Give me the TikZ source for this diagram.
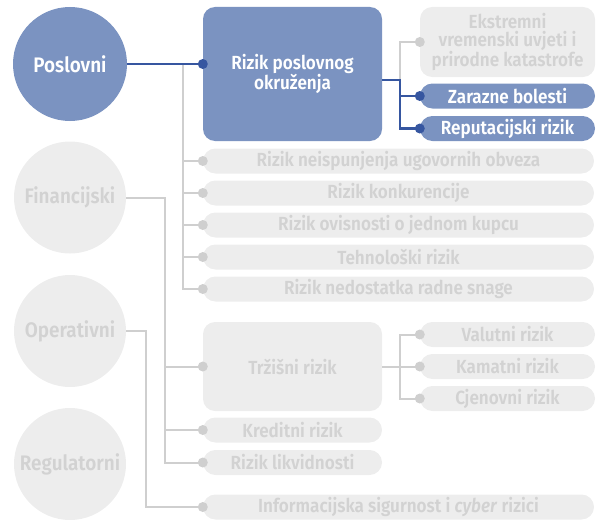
\documentclass[tikz,border=0pt]{standalone}
\usepackage{fontspec}
\setmainfont{Fira Sans}[BoldFont={Fira Sans SemiBold}, BoldFeatures={FakeStretch=0.9}, BoldItalicFont={Fira Sans SemiBold Italic}, BoldItalicFeatures={FakeStretch=0.9}]
\definecolor{bfill}{HTML}{7B93C1}
\definecolor{bline}{HTML}{3656A0}
\definecolor{gfill}{HTML}{EDEDED}
\definecolor{gtext}{HTML}{D2D2D2}
\definecolor{gline}{HTML}{CFCFCF}
\tikzset{
  base/.style={inner sep=0pt, align=center, font=\fontsize{19}{17.5}\selectfont\bfseries},
  bluec/.style={base, circle, fill=bfill, text=white, minimum size=114pt, font=\fontsize{21}{21}\selectfont\bfseries},
  grayc/.style={base, circle, fill=gfill, text=gtext, minimum size=112pt, font=\fontsize{21}{21}\selectfont\bfseries},
  bluebox/.style={base, rectangle, rounded corners=12pt, fill=bfill, text=white},
  graybox/.style={base, rectangle, rounded corners=12pt, fill=gfill, text=gtext},
  bluepill/.style={bluebox, minimum height=25pt, rounded corners=12.4pt},
  graypill/.style={graybox, minimum height=25pt, rounded corners=12.4pt},
  wide/.style={minimum width=391pt},
  mid/.style={minimum width=179pt},
  right/.style={minimum width=175pt},
  bconn/.style={draw=bline, line width=2.6pt},
  gconn/.style={draw=gline, line width=2pt},
  bdot/.style={fill=bline},
  gdot/.style={fill=gline},
}
\begin{document}
\begin{tikzpicture}[x=1pt,y=-1pt]
\useasboundingbox (0,0) rectangle (596,519);
% circles
\node[bluec] (pos) at (70,64) {Poslovni};
\node[grayc] (fin) at (70,197.5) {Financijski};
\node[grayc] (ope) at (70,331) {Operativni};
\node[grayc] (reg) at (70,464) {Regulatorni};
% business
\node[bluebox, mid, minimum height=134pt] (rpo) at (292.5,74) {Rizik poslovnog\\okruženja};
\node[graybox, right, minimum height=70pt] (eks) at (507.5,42) {Ekstremni\\vremenski uvjeti i\\prirodne katastrofe};
\node[bluepill, right] (zar) at (507.5,96) {Zarazne bolesti};
\node[bluepill, right] (rep) at (507.5,128.5) {Reputacijski rizik};
\node[graypill, wide] (p1) at (398.5,161) {Rizik neispunjenja ugovornih obveza};
\node[graypill, wide] (p2) at (398.5,193) {Rizik konkurencije};
\node[graypill, wide] (p3) at (398.5,225) {Rizik ovisnosti o jednom kupcu};
\node[graypill, wide] (p4) at (398.5,257) {Tehnološki rizik};
\node[graypill, wide] (p5) at (398.5,289) {Rizik nedostatka radne snage};
% financial
\node[graybox, mid, minimum height=89pt] (trz) at (292.5,366.5) {Tržišni rizik};
\node[graypill, right] (val) at (507.5,334.5) {Valutni rizik};
\node[graypill, right] (kam) at (507.5,366.5) {Kamatni rizik};
\node[graypill, right] (cje) at (507.5,398.5) {Cjenovni rizik};
\node[graypill, mid] (kre) at (292.5,430) {Kreditni rizik};
\node[graypill, mid] (lik) at (292.5,462.5) {Rizik likvidnosti};
% operational
\node[graypill, wide] (inf) at (398.5,507) {Informacijska sigurnost i \textit{cyber} rizici};
% junctions
\coordinate (j1) at (183,64);
\coordinate (k0) at (pos.east -| rpo.west);
\coordinate (k1) at (400,80);
\coordinate (k2) at (165,197.5);
\coordinate (k3) at (400,366.5);
\coordinate (k4) at (146,331);
% gray connectors
\draw[gconn] (j1) |- (p5.west);
\foreach \p in {p1,p2,p3,p4} \draw[gconn] (j1 |- \p.west) -- (\p.west);
\draw[gconn] (k1) |- (eks.west);
\draw[gconn] (fin.east) -- (k2) |- (lik.west);
\draw[gconn] (k2 |- trz.west) -- (trz.west);
\draw[gconn] (k2 |- kre.west) -- (kre.west);
\draw[gconn] (trz.east) -- (kam.west);
\draw[gconn] (val.west) -| (k3) |- (cje.west);
\draw[gconn] (ope.east) -- (k4) |- (inf.west);
\foreach \p in {eks,p1,p2,p3,p4,p5,trz,val,kam,cje,kre,lik,inf} \fill[gdot] (\p.west) circle (5pt);
% blue connectors
\draw[bconn] (pos.east) -- (k0);
\draw[bconn] (k1 -| rpo.east) -- (k1) |- (rep.west);
\draw[bconn] (k1 |- zar.west) -- (zar.west);
\fill[bdot] (k0) circle (5pt);
\foreach \p in {zar,rep} \fill[bdot] (\p.west) circle (5pt);
\end{tikzpicture}
\end{document}
